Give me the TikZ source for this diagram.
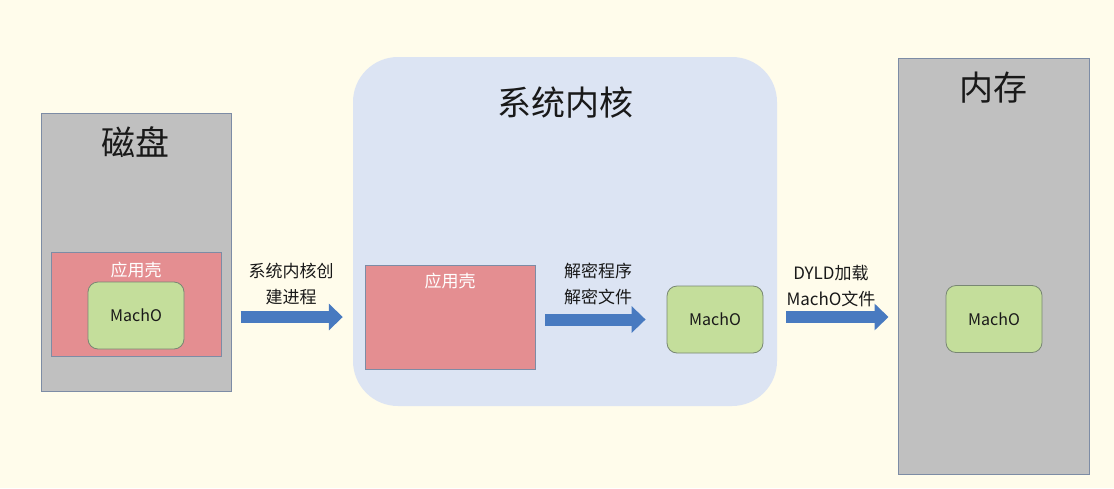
\documentclass[tikz,border=0pt]{standalone}
\usepackage{fontspec}
\setmainfont{Noto Sans CJK SC}
\usetikzlibrary{arrows.meta}
\definecolor{bgc}{RGB}{255,252,235}
\definecolor{grayfill}{RGB}{192,192,192}
\definecolor{edgec}{RGB}{125,140,165}
\definecolor{pinkc}{RGB}{228,142,145}
\definecolor{greenc}{RGB}{196,222,155}
\definecolor{greenedge}{RGB}{120,135,115}
\definecolor{kernc}{RGB}{220,228,243}
\definecolor{arrowc}{RGB}{72,122,192}
\definecolor{txt}{RGB}{25,25,25}
\begin{document}
\begin{tikzpicture}[x=1pt,y=-1pt,
  store/.style={draw=edgec, line width=1pt, fill=grayfill, inner sep=0pt},
  shell/.style={draw=edgec, line width=0.8pt, fill=pinkc, inner sep=0pt},
  macho/.style={draw=greenedge, line width=0.8pt, fill=greenc, rounded corners=10pt, inner sep=0pt,
    minimum width=96pt, minimum height=67pt, font=\fontsize{16}{19}\selectfont, text=txt},
  bigtitle/.style={font=\fontsize{34}{40}\selectfont, text=txt, inner sep=0pt},
  shelltitle/.style={font=\fontsize{17}{20}\selectfont, text=white, inner sep=0pt},
  lbl/.style={font=\fontsize{17}{26}\selectfont, text=txt, align=center, inner sep=0pt},
  bigarrow/.style={draw=arrowc, line width=12pt, -{Triangle[length=14pt,width=26pt]}}]
\useasboundingbox (0,0) rectangle (1114,488);
\fill[bgc] (0,0) rectangle (1114,488);

% disk
\node[store, minimum width=190pt, minimum height=278pt] (disk) at (136,252) {};
\node[bigtitle] (disktitle) at (135,142) {磁盘};
\node[shell, minimum width=170pt, minimum height=104pt] (shell1) at (136,304) {};
\node[shelltitle] (shell1t) at (136,270) {应用壳};
\node[macho] (m1) at (136,315.5) {MachO};

% kernel
\node[fill=kernc, rounded corners=45pt, minimum width=424pt, minimum height=349pt, inner sep=0pt] (kern) at (565,231.5) {};
\node[bigtitle] (kerntitle) at (565,103) {系统内核};
\node[shell, minimum width=170pt, minimum height=104pt] (shell2) at (450,317) {};
\node[shelltitle] (shell2t) at (450,281) {应用壳};
\node[macho] (m2) at (715,319.5) {MachO};

% memory
\node[store, minimum width=191pt, minimum height=416pt] (mem) at (993.5,266) {};
\node[bigtitle] (memtitle) at (993,88) {内存};
\node[macho] (m3) at (994,319) {MachO};

% arrows
\coordinate (a1) at (0,317);
\coordinate (a2) at (0,319.5);
\coordinate (a3) at (0,317);
\draw[bigarrow] ([xshift=9pt]disk.east |- a1) -- ([xshift=-10pt]kern.west |- a1);
\draw[bigarrow] ([xshift=10pt]shell2.east |- a2) -- ([xshift=-21pt]m2.west |- a2);
\draw[bigarrow] ([xshift=9pt]kern.east |- a3) -- ([xshift=-9pt]mem.west |- a3);

% labels
\node[lbl] (l1) at (291,283.5) {系统内核创\\建进程};
\node[lbl] (l2) at (598,283.5) {解密程序\\解密文件};
\node[lbl] (l3) at (831,286) {DYLD加载\\MachO文件};
\end{tikzpicture}
\end{document}
